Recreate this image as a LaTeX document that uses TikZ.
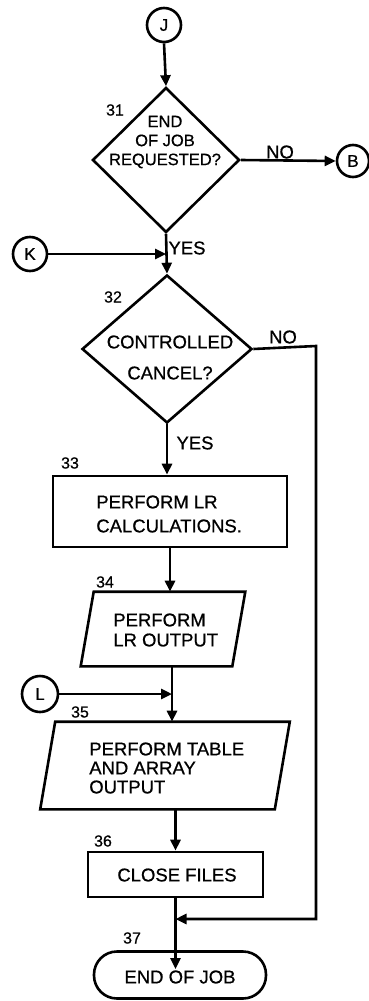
\documentclass[tikz,border=0pt]{standalone}
\usepackage{fontspec}
\setmainfont{Liberation Sans}[FakeBold=0.7]
\usetikzlibrary{shapes.geometric,arrows.meta}

\tikzset{
  every picture/.style={line width=2.6pt},
  conn/.style={circle, draw, minimum size=34pt, inner sep=0pt, font=\fontsize{17}{19}\selectfont},
  decision/.style={diamond, draw, inner sep=0pt, line join=miter},
  procbox/.style={rectangle, draw, inner sep=0pt},
  iobody/.style={rectangle, inner sep=0pt},
  terminal/.style={rectangle, draw, rounded corners=23pt, inner sep=0pt},
  txt/.style={inner sep=0pt, font=\fontsize{18.5}{19}\selectfont},
  stepno/.style={inner sep=0pt, font=\fontsize{16}{18}\selectfont},
  arr/.style={-{Triangle[length=11pt,width=10pt]}},
}

\begin{document}
\begin{tikzpicture}[x=1pt, y=-1pt]
  \useasboundingbox (0,0) rectangle (368,1001);

  % connectors and decisions
  \node[conn] (J) at (164,25) {J};
  \node[decision, minimum width=147pt, minimum height=145pt] (d31) at (166,160) {};
  \node[conn, minimum size=32pt] (B) at (353,161) {B};
  \node[conn] (K) at (30,254) {K};
  \node[decision, minimum width=170pt, minimum height=148pt] (d32) at (167,349) {};

  % processing and I/O blocks
  \node[procbox, minimum width=234pt, minimum height=71pt] (b33) at (170,511.5) {};
  \node[iobody, minimum width=149pt, minimum height=72pt] (p34) at (163,629) {};
  \node[conn, minimum size=36pt] (L) at (40,694) {L};
  \node[iobody, minimum width=232pt, minimum height=85pt] (p35) at (165,765.5) {};
  \node[procbox, minimum width=175pt, minimum height=45pt] (b36) at (175.5,874.5) {};
  \node[terminal, minimum width=172pt, minimum height=47pt] (t37) at (180,975) {};

  % slanted outlines of the I/O blocks
  \draw[line join=miter] ([xshift=6.5pt]p34.north west) -- ([xshift=6.5pt]p34.north east)
        -- ([xshift=-6.5pt]p34.south east) -- ([xshift=-6.5pt]p34.south west) -- cycle;
  \draw[line join=miter] ([xshift=7.5pt]p35.north west) -- ([xshift=7.5pt]p35.north east)
        -- ([xshift=-7.5pt]p35.south east) -- ([xshift=-7.5pt]p35.south west) -- cycle;

  % block texts
  \node[txt, align=center, font=\fontsize{16.5}{19}\selectfont] (t31) at (165,142) {END\\OF JOB\\REQUESTED?};
  \node[txt, align=center, font=\fontsize{18.5}{31}\selectfont] (t32) at (170,357.5) {CONTROLLED\\CANCEL?};
  \node[txt, align=left, anchor=west, font=\fontsize{18.5}{24}\selectfont] (t33) at (95,514) {PERFORM LR\\CALCULATIONS.};
  \node[txt, align=left, anchor=west, font=\fontsize{18.5}{20}\selectfont] (t34) at (112,630) {PERFORM\\LR OUTPUT};
  \node[txt, align=left, anchor=west] (t35) at (88,768) {PERFORM TABLE\\AND ARRAY\\OUTPUT};
  \node[txt] (t36) at (177,875) {CLOSE FILES};
  \node[txt] (t37) at (180,977) {END OF JOB};

  % step numbers
  \node[stepno] (n31) at (115,110) {31};
  \node[stepno] (n32) at (113,297) {32};
  \node[stepno] (n33) at (70,463) {33};
  \node[stepno] (n34) at (105,582) {34};
  \node[stepno] (n35) at (80,712) {35};
  \node[stepno] (n36) at (103,841) {36};
  \node[stepno] (n37) at (132,938) {37};

  % flow lines
  \draw[arr] (J.south) -- (d31.north);
  \draw[arr] (d31.east) -- (B.west);
  \draw[arr] (d31.south) -- (d32.north);
  \coordinate (kj) at (d31.south |- K);
  \draw[arr] (K.east) -- (kj);
  \draw[arr] (d32.south) -- (d32.south |- b33.north);
  \draw[arr] (b33.south) -- (b33.south |- p34.north);
  \coordinate (c34) at ([xshift=9pt]p34.south);
  \draw[arr] (c34) -- (c34 |- p35.north);
  \coordinate (lj) at (c34 |- L);
  \draw[arr] (L.east) -- (lj);
  \draw[arr] (b36.north |- p35.south) -- (b36.north);
  \draw[arr] (b36.south) -- (b36.south |- t37.north);
  \coordinate (nr) at (316,346);
  \coordinate (nm) at (b36.south |- 0,919);
  \draw[arr, line join=miter] (d32.east) -- (nr) -- (nr |- nm) -- (nm);

  % branch labels
  \node[txt] (no31) at (280,152) {NO};
  \node[txt] (yes31) at (187,248) {YES};
  \node[txt] (no32) at (283,337) {NO};
  \node[txt] (yes32) at (195,443) {YES};
\end{tikzpicture}
\end{document}
